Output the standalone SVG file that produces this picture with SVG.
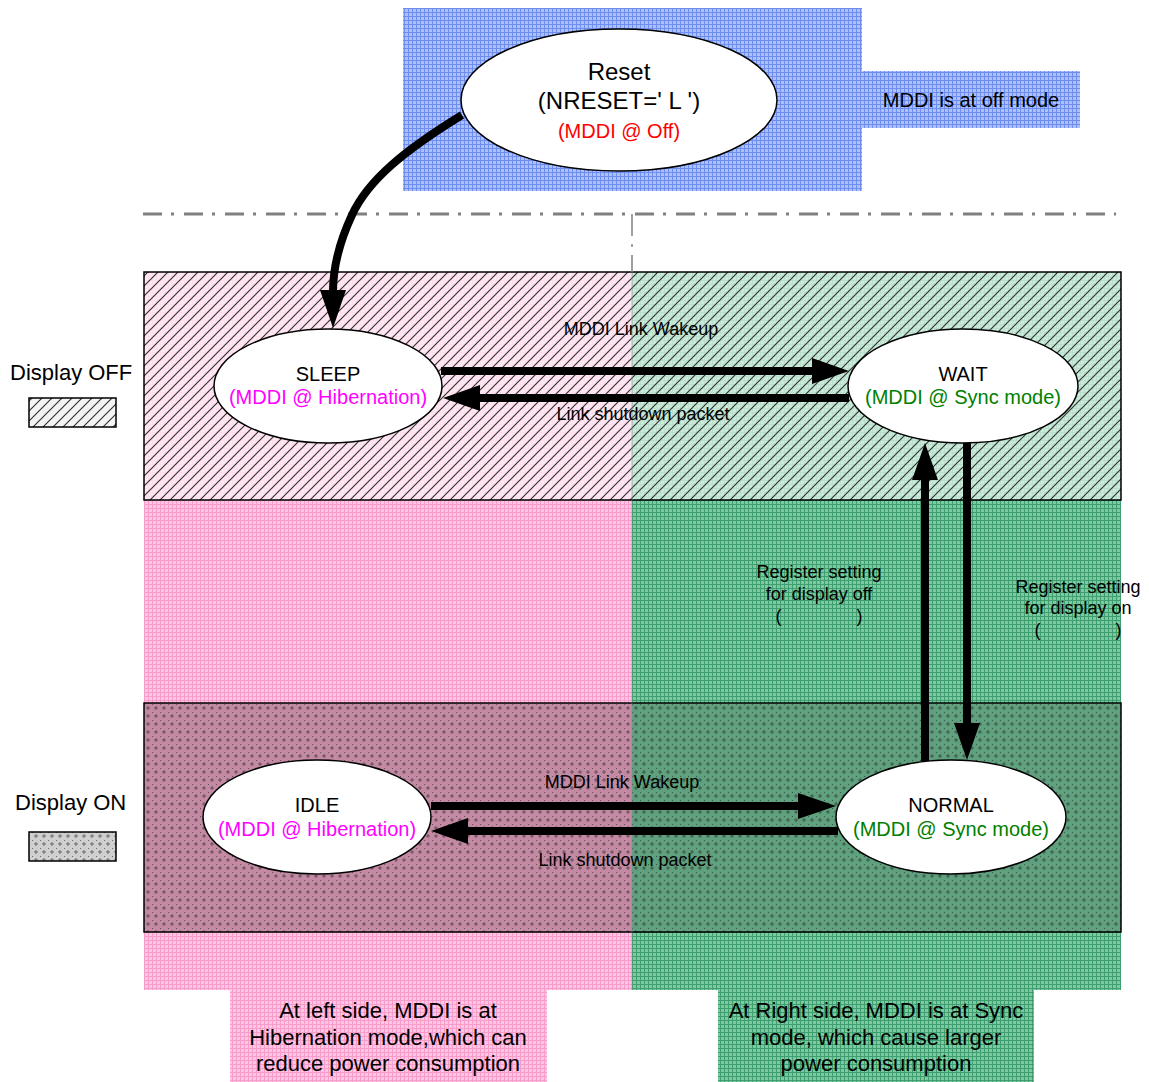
<svg xmlns="http://www.w3.org/2000/svg" width="1149" height="1082" viewBox="0 0 1149 1082">
<style>
  text { font-family: "Liberation Sans", Arial, sans-serif; fill: #000; }
  .c { text-anchor: middle; }
  .lbl { font-size: 18px; }
  .st { font-size: 20px; }
  .big { font-size: 22px; }
  .node { fill: #fff; stroke: #000; stroke-width: 1.5; }
  .box { fill: none; stroke: #000; stroke-width: 1.5; }
  .wire { fill: none; stroke: #000; stroke-width: 8; }
  .mag { fill: #ff00ff; }
  .grn { fill: #008000; }
  .red { fill: #ff0000; }
</style>
<defs>
  <pattern id="gBlue" width="4" height="4" patternUnits="userSpaceOnUse">
    <rect width="4" height="4" fill="#adc0f8"/>
    <path d="M0,0.5 H4 M0.5,0 V4" stroke="#6d8ef0" stroke-width="1"/>
  </pattern>
  <pattern id="gPink" width="4" height="4" patternUnits="userSpaceOnUse">
    <rect width="4" height="4" fill="#ffc6e3"/>
    <path d="M0,0.5 H4 M0.5,0 V4" stroke="#f79ccb" stroke-width="1"/>
  </pattern>
  <pattern id="gGreen" width="4" height="4" patternUnits="userSpaceOnUse">
    <rect width="4" height="4" fill="#7cc9a2"/>
    <path d="M0,0.5 H4 M0.5,0 V4" stroke="#3f9e6f" stroke-width="1"/>
  </pattern>
  <pattern id="hatch" width="10" height="10" patternUnits="userSpaceOnUse">
    <path d="M-1,1 L1,-1 M0,10 L10,0 M9,11 L11,9" stroke="#333" stroke-width="1.2"/>
  </pattern>
  <pattern id="dots" width="8" height="8" patternUnits="userSpaceOnUse">
    <path d="M4,2 V6 M2,4 H6" stroke="#222" stroke-width="0.8" opacity="0.7"/>
    <rect x="0" y="0" width="1" height="1" fill="#222" opacity="0.6"/>
  </pattern>
</defs>

<!-- backgrounds -->
<rect x="403" y="8" width="459" height="183" fill="url(#gBlue)"/>
<rect x="862" y="71" width="218" height="57" fill="url(#gBlue)"/>
<text class="st c" x="971" y="107">MDDI is at off mode</text>

<rect x="144" y="272" width="488" height="718" fill="url(#gPink)"/>
<rect x="632" y="272" width="489" height="718" fill="url(#gGreen)"/>

<!-- display OFF band -->
<rect x="144" y="272" width="488" height="228" fill="#fff0f6" opacity="0.8"/>
<rect x="632" y="272" width="489" height="228" fill="#e4f5ec" opacity="0.75"/>
<rect x="144" y="272" width="977" height="228" fill="url(#hatch)"/>
<rect class="box" x="144" y="272" width="977" height="228"/>

<!-- display ON band -->
<rect x="144" y="703" width="488" height="229" fill="#c48aa4"/>
<rect x="632" y="703" width="489" height="229" fill="#5fa07e"/>
<rect x="144" y="703" width="977" height="229" fill="url(#dots)"/>
<rect class="box" x="144" y="703" width="977" height="229"/>

<!-- bottom notes -->
<rect x="230" y="990" width="317" height="92" fill="url(#gPink)"/>
<rect x="718" y="990" width="316" height="92" fill="url(#gGreen)"/>
<text class="big c" x="388" y="1018">At left side, MDDI is at</text>
<text class="big c" x="388" y="1045">Hibernation mode,which can</text>
<text class="big c" x="388" y="1071">reduce power consumption</text>
<text class="big c" x="876" y="1018">At Right side, MDDI is at Sync</text>
<text class="big c" x="876" y="1045">mode, which cause larger</text>
<text class="big c" x="876" y="1071">power consumption</text>

<!-- separator lines -->
<line x1="143" y1="214" x2="1116" y2="214" stroke="#808080" stroke-width="3" stroke-dasharray="19 9 3 10"/>
<line x1="632" y1="214" x2="632" y2="272" stroke="#808080" stroke-width="1.5" stroke-dasharray="22 8 3 8"/>
<line x1="632" y1="272" x2="632" y2="990" stroke="#888" stroke-width="1" opacity="0.5"/>

<!-- legend -->
<text class="big" x="10" y="380">Display OFF</text>
<rect x="29" y="398" width="87" height="29" fill="#f4f4f4"/>
<rect x="29" y="398" width="87" height="29" fill="url(#hatch)"/>
<rect class="box" x="29" y="398" width="87" height="29"/>
<text class="big" x="15" y="810">Display ON</text>
<rect x="29" y="832" width="87" height="29" fill="#cfcfcf"/>
<rect x="29" y="832" width="87" height="29" fill="url(#dots)"/>
<rect class="box" x="29" y="832" width="87" height="29"/>

<!-- connectors -->
<g id="connectors">
  <path class="wire" d="M462,115 C405,150 368,180 352,215 C338,245 333,270 333,292"/>
  <polygon points="320,290 346,290 333,328"/>

  <line class="wire" x1="441" y1="371" x2="814" y2="371"/>
  <polygon points="812,358 812,384 849,371"/>
  <line class="wire" x1="849" y1="398" x2="478" y2="398"/>
  <polygon points="480,385 480,411 443,398"/>

  <line class="wire" x1="431" y1="806" x2="800" y2="806"/>
  <polygon points="798,793 798,819 836,806"/>
  <line class="wire" x1="838" y1="831" x2="466" y2="831"/>
  <polygon points="468,818 468,844 431,831"/>

  <line class="wire" x1="925" y1="761" x2="925" y2="478"/>
  <polygon points="912,480 938,480 925,443"/>
  <line class="wire" x1="967" y1="443" x2="967" y2="725"/>
  <polygon points="954,723 980,723 967,760"/>

  <text class="lbl c" x="641" y="335">MDDI Link Wakeup</text>
  <text class="lbl c" x="643" y="420">Link shutdown packet</text>
  <text class="lbl c" x="622" y="788">MDDI Link Wakeup</text>
  <text class="lbl c" x="625" y="866">Link shutdown packet</text>
  <text class="lbl c" x="819" y="578">Register setting</text>
  <text class="lbl c" x="819" y="600">for display off</text>
  <text class="lbl c" x="819" y="622" xml:space="preserve">(               )</text>
  <text class="lbl c" x="1078" y="593">Register setting</text>
  <text class="lbl c" x="1078" y="614">for display on</text>
  <text class="lbl c" x="1078" y="636" xml:space="preserve">(               )</text>
</g>

<!-- nodes -->
<g id="reset">
  <ellipse class="node" cx="619" cy="100" rx="158" ry="71"/>
  <text class="c" style="font-size:24px" x="619" y="80">Reset</text>
  <text class="c" style="font-size:24px" x="619" y="109">(NRESET=' L ')</text>
  <text class="st c red" x="619" y="138">(MDDI @ Off)</text>
</g>
<g id="sleep">
  <ellipse class="node" cx="328" cy="386" rx="114" ry="57"/>
  <text class="st c" x="328" y="381">SLEEP</text>
  <text class="st c mag" x="328" y="404">(MDDI @ Hibernation)</text>
</g>
<g id="wait">
  <ellipse class="node" cx="963" cy="386" rx="115" ry="57"/>
  <text class="st c" x="963" y="381">WAIT</text>
  <text class="st c grn" x="963" y="404">(MDDI @ Sync mode)</text>
</g>
<g id="idle">
  <ellipse class="node" cx="317" cy="817" rx="114" ry="57"/>
  <text class="st c" x="317" y="812">IDLE</text>
  <text class="st c mag" x="317" y="836">(MDDI @ Hibernation)</text>
</g>
<g id="normal">
  <ellipse class="node" cx="951" cy="817" rx="115" ry="57"/>
  <text class="st c" x="951" y="812">NORMAL</text>
  <text class="st c grn" x="951" y="836">(MDDI @ Sync mode)</text>
</g>
</svg>
